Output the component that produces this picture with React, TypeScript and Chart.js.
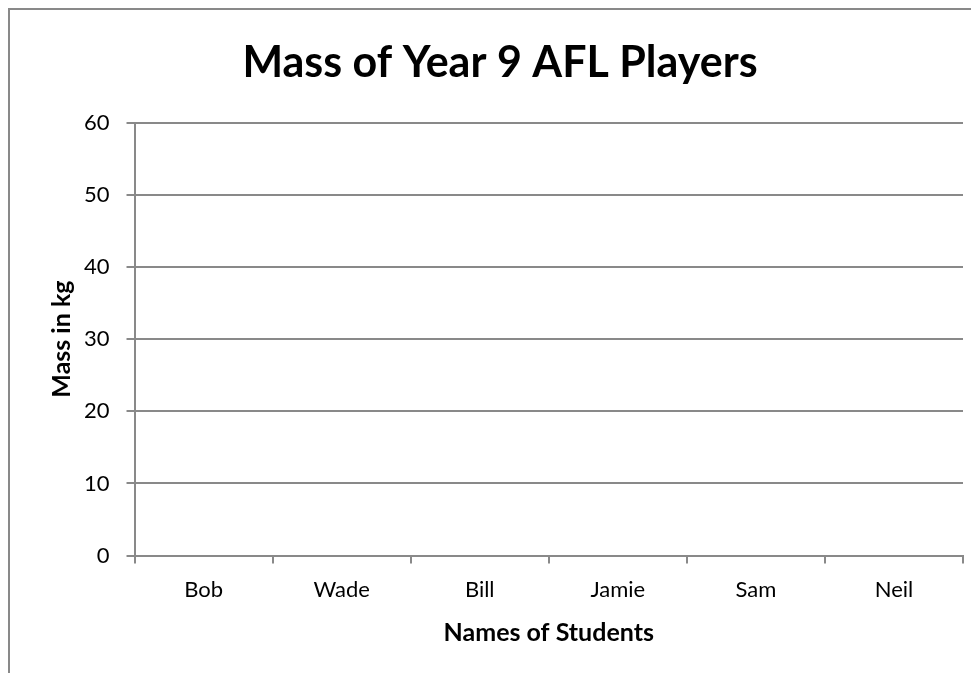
import React, { useEffect, useRef } from "react";
import { Chart, registerables } from "chart.js";

Chart.register(...registerables);

const categories: string[] = ["Bob", "Wade", "Bill", "Jamie", "Sam", "Neil"];
const masses: (number | null)[] = [null, null, null, null, null, null];
const yMin = 0;
const yMax = 60;
const yStep = 10;
const titleText = "Mass of Year 9 AFL Players";
const xTitle = "Names of Students";
const yTitle = "Mass in kg";

const FONT = "Lato, 'Open Sans', sans-serif";
const GRID = "#898989";

export default function App() {
  const ref = useRef<HTMLCanvasElement | null>(null);
  useEffect(() => {
    if (!ref.current) return;
    const chart = new Chart(ref.current, {
      type: "bar",
      data: {
        labels: categories,
        datasets: [{ label: "Mass", data: masses, backgroundColor: "#4f81bd" }],
      },
      options: {
        animation: false,
        responsive: true,
        maintainAspectRatio: false,
        layout: { padding: { left: 27, right: 16, top: 0, bottom: 25 } },
        plugins: {
          legend: { display: false },
          tooltip: { enabled: false },
          title: {
            display: true,
            text: titleText,
            color: "#000",
            font: { family: FONT, size: 43, weight: "bold" },
            padding: { top: 27, bottom: 34 },
          },
        },
        scales: {
          x: {
            offset: true,
            grid: {
              display: true,
              offset: true,
              drawOnChartArea: false,
              drawTicks: true,
              tickLength: 8,
              color: GRID,
              lineWidth: 2,
            },
            border: { display: true, color: GRID, width: 2 },
            ticks: {
              color: "#000",
              font: { family: FONT, size: 22 },
              padding: 13,
            },
            title: {
              display: true,
              text: xTitle,
              color: "#000",
              font: { family: FONT, size: 25, weight: "bold" },
              padding: { top: 2, bottom: 0 },
            },
          },
          y: {
            min: yMin,
            max: yMax,
            grid: {
              color: GRID,
              lineWidth: 2,
              drawTicks: true,
              tickLength: 8,
            },
            border: { display: true, color: GRID, width: 2 },
            ticks: {
              stepSize: yStep,
              color: "#000",
              font: { family: FONT, size: 22 },
              padding: 17,
            },
            title: {
              display: true,
              text: yTitle,
              color: "#000",
              font: { family: FONT, size: 25, weight: "bold" },
              padding: { top: 10, bottom: -10 },
            },
          },
        },
      },
    });
    return () => chart.destroy();
  }, []);

  return (
    <div
      style={{
        width: 971,
        height: 665,
        boxSizing: "border-box",
        borderLeft: "2px solid " + GRID,
        borderTop: "2px solid " + GRID,
        background: "#fff",
        position: "relative",
        overflow: "hidden",
      }}
    >
      <div style={{ position: "absolute", left: 0, top: 0, width: 969, height: 663 }}>
        <canvas ref={ref} />
      </div>
    </div>
  );
}
